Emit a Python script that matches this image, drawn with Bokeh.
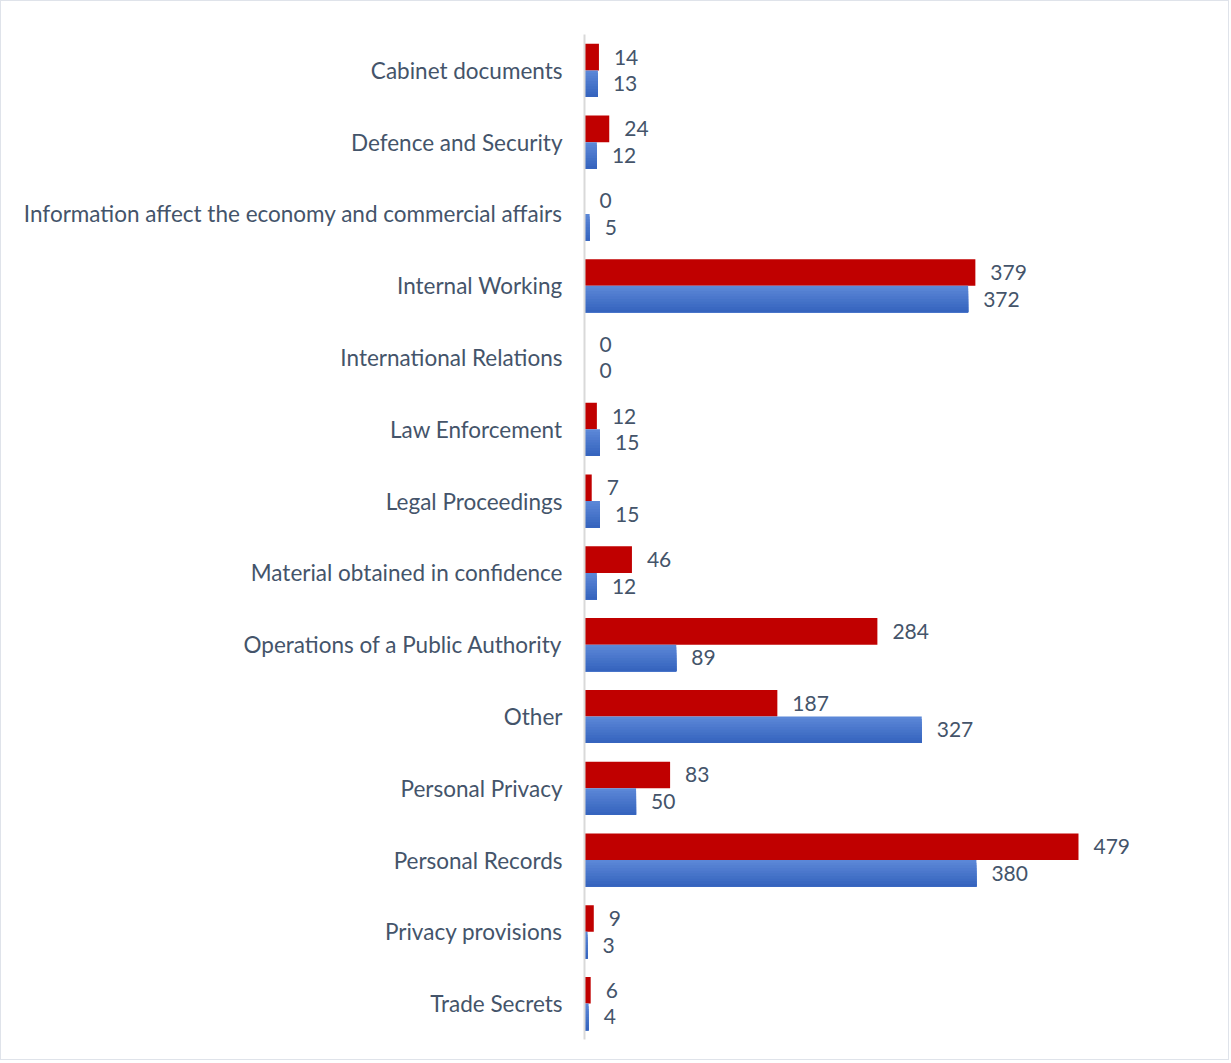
from bokeh.plotting import figure
from bokeh.models import ColumnDataSource, FactorRange, Range1d, LabelSet
from bokeh.transform import dodge
from bokeh.core.properties import value
from bokeh.embed import file_html
from bokeh.resources import INLINE

categories = [
    "Cabinet documents",
    "Defence and Security",
    "Information affect the economy and commercial affairs",
    "Internal Working",
    "International Relations",
    "Law Enforcement",
    "Legal Proceedings",
    "Material obtained in confidence",
    "Operations of a Public Authority",
    "Other",
    "Personal Privacy",
    "Personal Records",
    "Privacy provisions",
    "Trade Secrets",
]
series_red = [14, 24, 0, 379, 0, 12, 7, 46, 284, 187, 83, 479, 9, 6]
series_blue = [13, 12, 5, 372, 0, 15, 15, 12, 89, 327, 50, 380, 3, 4]

src = ColumnDataSource(dict(
    cat=categories,
    red=series_red,
    blue=series_blue,
    red_lbl=[str(v) for v in series_red],
    blue_lbl=[str(v) for v in series_blue],
))

FONT = "Lato"
TXT = "#44546A"

p = figure(
    width=1229, height=1060,
    y_range=FactorRange(factors=list(reversed(categories)), range_padding=0),
    x_range=Range1d(0, 607),
    output_backend="svg", toolbar_location=None,
    min_border_left=583, min_border_top=33, min_border_bottom=22, min_border_right=20,
)
p.styles = {"border": "1px solid #dfe3ea"}
p.outline_line_color = None
p.grid.grid_line_color = None
p.xaxis.visible = False

ya = p.yaxis[0]
ya.axis_line_color = "#d9d9d9"
ya.axis_line_width = 2
ya.major_tick_line_color = None
ya.minor_tick_line_color = None
ya.major_label_standoff = 16
ya.major_label_text_font = FONT
ya.major_label_text_font_size = "22.5px"
ya.major_label_text_color = TXT

H = 0.37
p.hbar(y=dodge("cat", 0.185, range=p.y_range), right="red", left=0, height=H,
       source=src, fill_color="#C00000", line_color=None)

# blue bars with a top-to-bottom gradient (light -> dark), layered from the bar's bottom edge
top_c = (0x5B, 0x87, 0xD7)
bot_c = (0x36, 0x64, 0xBE)
steps = 10
bottom = -0.185 - H / 2
for k in range(steps):
    frac = k / (steps - 1)
    h = H * (1 - k / steps)
    c = tuple(round(top_c[i] + (bot_c[i] - top_c[i]) * frac) for i in range(3))
    p.hbar(y=dodge("cat", bottom + h / 2, range=p.y_range), right="blue", left=0, height=h,
           source=src, fill_color="#%02x%02x%02x" % c, line_color=None)

for col, lbl, off in (("red", "red_lbl", 0.185), ("blue", "blue_lbl", -0.185)):
    ls = LabelSet(x=col, y=dodge("cat", off, range=p.y_range), text=lbl, source=src,
                  x_offset=15, text_baseline="middle", text_align="left",
                  text_font=value(FONT), text_font_size="21px", text_color=TXT)
    p.add_layout(ls)

open("out.html", "w").write(file_html(p, INLINE))
